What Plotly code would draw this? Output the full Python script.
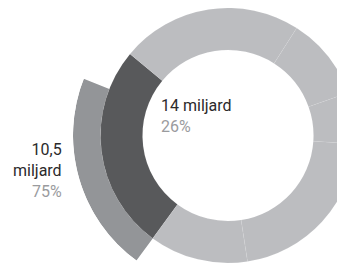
import math
import plotly.graph_objects as go

# ---- data ----
ring_labels = ["14 miljard", "a", "b", "c", "d", "e"]
ring_shares = [26, 23, 10.5, 6.5, 21.5, 12.5]          # % of the full ring, dark slice first
ring_colors = ["#58595b", "#bcbdc0", "#bcbdc0", "#bcbdc0", "#bcbdc0", "#bcbdc0"]
ring_start_deg = 216.2                                  # compass angle where the dark slice starts

outer_label = "10,5 miljard"
outer_share = 20.9                                      # % of the full circle covered by the outer arc
outer_color = "#939598"

label_main = ["14 miljard", "26%"]
label_outer = ["10,5", "miljard", "75%"]

# ---- geometry / style (page body has an 8px margin) ----
W, H = 360, 263
CX, CY = 220.0, 127.5
R_IN, R_OUT, R_ARC = 85.5, 127.5, 155.0
TEXT_DARK = "#2b2a2b"
TEXT_GRAY = "#9a9b9e"
FONT = "Roboto"

fig = go.Figure()

# main ring (pie with a hole)
fig.add_trace(go.Pie(
    values=ring_shares,
    labels=ring_labels,
    marker=dict(colors=ring_colors,
                line=dict(color="rgba(255,255,255,0.12)", width=0.6)),
    hole=R_IN / R_OUT,
    sort=False,
    direction="clockwise",
    rotation=ring_start_deg - 360,
    textinfo="none",
    hoverinfo="skip",
    showlegend=False,
    domain=dict(x=[(CX - R_OUT) / W, (CX + R_OUT) / W],
                y=[max(0, (H - CY - R_OUT) / H), min(1, (H - CY + R_OUT) / H)]),
))

# outer arc: barpolar in a sector-limited polar subplot sharing the ring's centre
outer_deg = outer_share / 100 * 360
fig.add_trace(go.Barpolar(
    r=[R_ARC - R_OUT],
    base=[R_OUT],
    theta=[ring_start_deg + outer_deg / 2],
    width=[outer_deg],
    marker=dict(color=outer_color, line=dict(width=0)),
    hoverinfo="skip",
    showlegend=False,
    subplot="polar",
))

sec = [152, 235]
s0, s1 = math.radians(sec[0]), math.radians(sec[1])
bx0, bx1 = -1.0, 0.0
by0, by1 = math.sin(s1), math.sin(s0)
px_left = CX + bx0 * R_ARC
px_right = CX + bx1 * R_ARC
py_top = CY - by1 * R_ARC
py_bot = CY - by0 * R_ARC

fig.update_layout(
    polar=dict(
        sector=sec,
        domain=dict(x=[px_left / W, px_right / W],
                    y=[1 - py_bot / H, 1 - py_top / H]),
        bgcolor="rgba(0,0,0,0)",
        hole=0,
        radialaxis=dict(visible=False, range=[0, R_ARC], showgrid=False),
        angularaxis=dict(visible=False, rotation=90, direction="clockwise", showgrid=False),
    )
)

# labels
main_txt = f"{label_main[0]}<br><span style='color:{TEXT_GRAY}'>{label_main[1]}</span>"
outer_txt = (f"{label_outer[0]}<br>{label_outer[1]}<br>"
             f"<span style='color:{TEXT_GRAY}'>{label_outer[2]}</span>")
fig.add_annotation(text=main_txt, xref="paper", yref="paper",
                   x=151 / W, y=1 - 107.5 / H, xanchor="left", yanchor="middle",
                   align="left", showarrow=False,
                   font=dict(family=FONT, size=16, color=TEXT_DARK))
fig.add_annotation(text=outer_txt, xref="paper", yref="paper",
                   x=56 / W, y=1 - 162 / H, xanchor="right", yanchor="middle",
                   align="right", showarrow=False,
                   font=dict(family=FONT, size=16, color=TEXT_DARK))

fig.update_layout(
    width=W, height=H,
    margin=dict(l=0, r=0, t=0, b=0),
    paper_bgcolor="white",
    plot_bgcolor="white",
    showlegend=False,
)

fig.write_html("out.html")
